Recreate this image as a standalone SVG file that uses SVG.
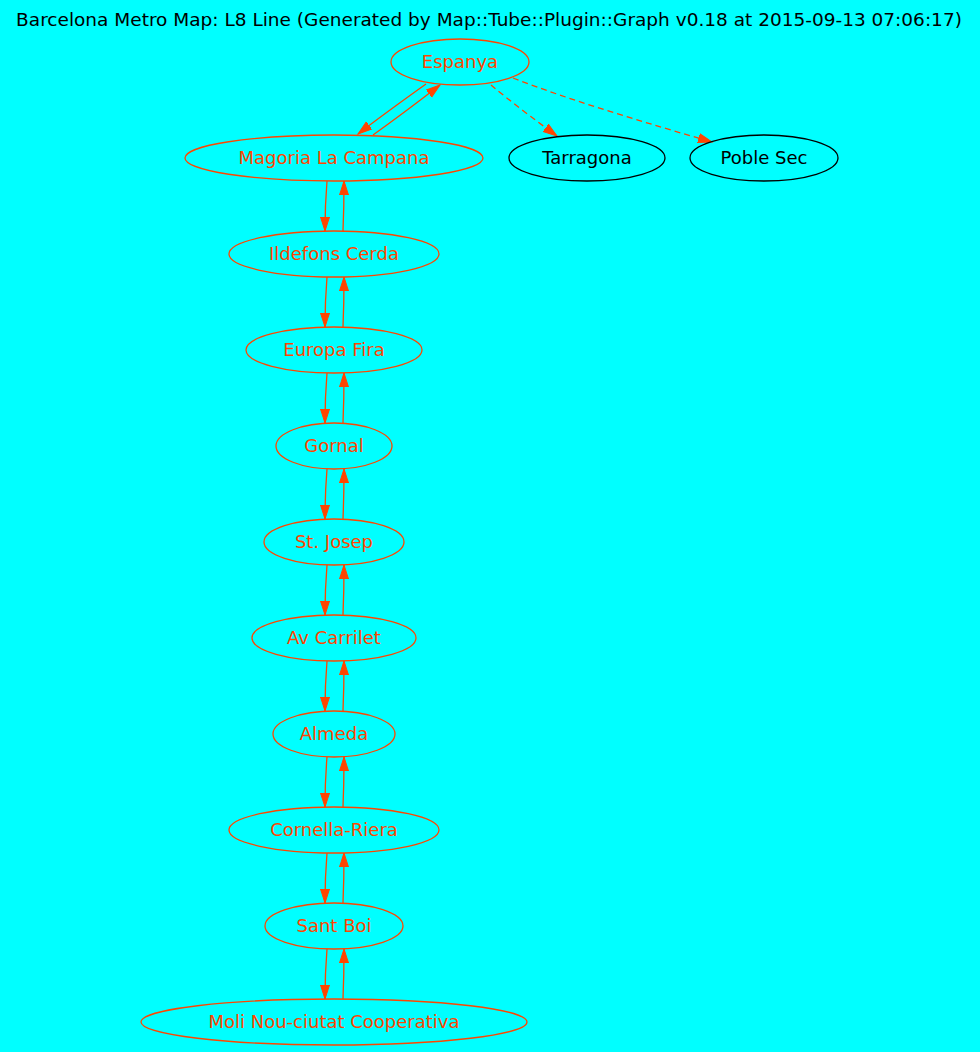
<svg xmlns="http://www.w3.org/2000/svg" width="980" height="1052" viewBox="0 0 980 1052">
<style>
.bg{fill:#00ffff}
.n ellipse{fill:none;stroke:#ff4500;stroke-width:1.3}
.n text{fill:#ff4500}
.o ellipse{fill:none;stroke:#000000;stroke-width:1.3}
.o text{fill:#000000}
text{font-family:"DejaVu Sans",sans-serif;font-size:18px;text-anchor:middle}
.title{font-size:18.5px;fill:#000000}
.e path{fill:none;stroke:#ff4500;stroke-width:1.3;marker-end:url(#ah)}
.e path.d{stroke-dasharray:6,4}
</style>
<defs>
<marker id="ah" markerUnits="userSpaceOnUse" markerWidth="16" markerHeight="12" refX="14" refY="5" orient="auto">
<path d="M0,0.5 L14,5 L0,9.5 z" fill="#ff4500" stroke="#ff4500" stroke-width="1"/>
</marker>
</defs>
<rect class="bg" x="0" y="0" width="980" height="1052"/>
<text class="title" x="489" y="26">Barcelona Metro Map: L8 Line (Generated by Map::Tube::Plugin::Graph v0.18 at 2015-09-13 07:06:17)</text>
<g id="edges" class="e">
<path d="M426,84 C405,99 380,117 358,134"/>
<path d="M373,135 C394,120 418,102 440,85"/>
<path class="d" d="M491,85 C510,101 535,120 557,136"/>
<path class="d" d="M513,78 C575,102 650,124 712,142"/>
<path d="M327,181 C326,193 325,208 325,231"/>
<path d="M343,231 C343.5,219 344,204 344,181"/>
<path d="M327,277 C326,289 325,304 325,327"/>
<path d="M343,327 C343.5,315 344,300 344,277"/>
<path d="M327,373 C326,385 325,400 325,423"/>
<path d="M343,423 C343.5,411 344,396 344,373"/>
<path d="M327,469 C326,481 325,496 325,519"/>
<path d="M343,519 C343.5,507 344,492 344,469"/>
<path d="M327,565 C326,577 325,592 325,615"/>
<path d="M343,615 C343.5,603 344,588 344,565"/>
<path d="M327,661 C326,673 325,688 325,711"/>
<path d="M343,711 C343.5,699 344,684 344,661"/>
<path d="M327,757 C326,769 325,784 325,807"/>
<path d="M343,807 C343.5,795 344,780 344,757"/>
<path d="M327,853 C326,865 325,880 325,903"/>
<path d="M343,903 C343.5,891 344,876 344,853"/>
<path d="M327,949 C326,961 325,976 325,999"/>
<path d="M343,999 C343.5,987 344,972 344,949"/>
</g>
<g id="espanya" class="n"><ellipse cx="460" cy="62" rx="69" ry="23"/><text x="460" y="68">Espanya</text></g>
<g id="magoria" class="n"><ellipse cx="334" cy="158" rx="149" ry="23"/><text x="334" y="164">Magoria La Campana</text></g>
<g id="tarragona" class="o"><ellipse cx="587" cy="158" rx="78" ry="23"/><text x="587" y="164">Tarragona</text></g>
<g id="poblesec" class="o"><ellipse cx="764" cy="158" rx="74" ry="23"/><text x="764" y="164">Poble Sec</text></g>
<g id="ildefons" class="n"><ellipse cx="334" cy="254" rx="105" ry="23"/><text x="334" y="260">Ildefons Cerda</text></g>
<g id="europa" class="n"><ellipse cx="334" cy="350" rx="88" ry="23"/><text x="334" y="356">Europa Fira</text></g>
<g id="gornal" class="n"><ellipse cx="334" cy="446" rx="58" ry="23"/><text x="334" y="452">Gornal</text></g>
<g id="stjosep" class="n"><ellipse cx="334" cy="542" rx="70" ry="23"/><text x="334" y="548">St. Josep</text></g>
<g id="avcarrilet" class="n"><ellipse cx="334" cy="638" rx="82" ry="23"/><text x="334" y="644">Av Carrilet</text></g>
<g id="almeda" class="n"><ellipse cx="334" cy="734" rx="61" ry="23"/><text x="334" y="740">Almeda</text></g>
<g id="cornella" class="n"><ellipse cx="334" cy="830" rx="105" ry="23"/><text x="334" y="836">Cornella-Riera</text></g>
<g id="santboi" class="n"><ellipse cx="334" cy="926" rx="69" ry="23"/><text x="334" y="932">Sant Boi</text></g>
<g id="molinou" class="n"><ellipse cx="334" cy="1022" rx="193" ry="23"/><text x="334" y="1028">Moli Nou-ciutat Cooperativa</text></g>
</svg>
